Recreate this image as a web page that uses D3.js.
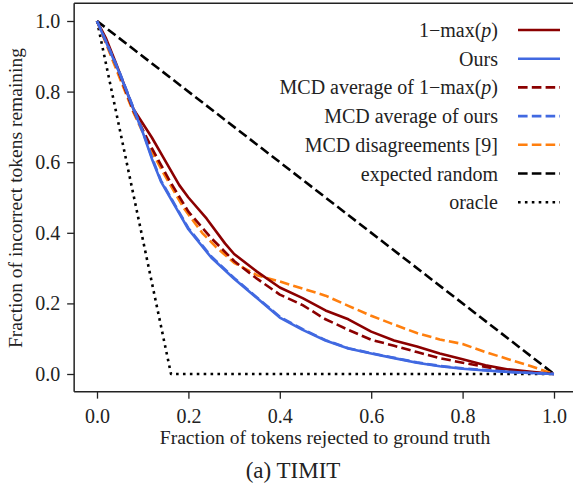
<!DOCTYPE html>
<html>
<head>
<meta charset="utf-8">
<script src="https://cdn.jsdelivr.net/npm/d3@7"></script>
<style>
  body { margin: 0; background: #fff; }
  svg text { font-family: "Liberation Serif", "DejaVu Serif", serif; fill: #222; }
</style>
</head>
<body>
<div id="chart-area"></div>
<script>
// values
var xMaxP   = [0, 0.02, 0.04, 0.08, 0.12, 0.14, 0.18, 0.2, 0.24, 0.28, 0.3, 0.35, 0.4, 0.45, 0.5, 0.55, 0.6, 0.65, 0.7, 0.75, 0.8, 0.85, 0.9, 0.95, 1.0];
var yMaxP   = [1, 0.95, 0.885, 0.75, 0.67, 0.625, 0.535, 0.50, 0.44, 0.37, 0.34, 0.29, 0.245, 0.215, 0.18, 0.155, 0.12, 0.095, 0.078, 0.058, 0.042, 0.025, 0.013, 0.006, 0];

var xOurs   = [0, 0.02, 0.05, 0.08, 0.1, 0.12, 0.14, 0.16, 0.18, 0.2, 0.25, 0.3, 0.35, 0.4, 0.45, 0.5, 0.55, 0.6, 0.65, 0.7, 0.75, 0.8, 0.85, 0.9, 0.95, 1.0];
var yOurs   = [1, 0.94, 0.85, 0.75, 0.685, 0.61, 0.545, 0.50, 0.455, 0.41, 0.33, 0.27, 0.215, 0.16, 0.125, 0.095, 0.072, 0.058, 0.045, 0.032, 0.022, 0.015, 0.01, 0.006, 0.003, 0];
var yOursMcd = [1, 0.942, 0.853, 0.753, 0.688, 0.614, 0.548, 0.503, 0.458, 0.413, 0.333, 0.272, 0.217, 0.162, 0.127, 0.096, 0.073, 0.059, 0.046, 0.033, 0.023, 0.016, 0.011, 0.006, 0.003, 0];

var xMaxPMcd = [0, 0.04, 0.08, 0.12, 0.16, 0.2, 0.25, 0.3, 0.35, 0.4, 0.45, 0.5, 0.55, 0.6, 0.65, 0.7, 0.75, 0.8, 0.85, 0.9, 0.95, 1.0];
var yMaxPMcd = [1, 0.88, 0.745, 0.64, 0.545, 0.46, 0.385, 0.32, 0.27, 0.225, 0.195, 0.155, 0.125, 0.097, 0.08, 0.062, 0.045, 0.032, 0.02, 0.01, 0.004, 0];

var xDisagree = [0, 0.04, 0.08, 0.12, 0.145, 0.19, 0.23, 0.26, 0.3, 0.35, 0.4, 0.45, 0.5, 0.55, 0.6, 0.65, 0.7, 0.75, 0.8, 0.85, 0.9, 0.95, 1.0];
var yDisagree = [1, 0.87, 0.74, 0.63, 0.57, 0.47, 0.40, 0.36, 0.315, 0.28, 0.262, 0.242, 0.222, 0.193, 0.165, 0.14, 0.116, 0.098, 0.085, 0.062, 0.042, 0.022, 0];

var xRandom = [0, 1], yRandom = [1, 0];
var xOracle = [0, 0.162, 1], yOracle = [1, 0, 0];

var xTicks = [0, 0.2, 0.4, 0.6, 0.8, 1.0];
var yTicks = [0, 0.2, 0.4, 0.6, 0.8, 1.0];

var W = 573, H = 483;

var xScale = d3.scaleLinear().domain([-0.05, 1.05]).range([74.15, 576.85]);
var yScale = d3.scaleLinear().domain([-0.05, 1.05]).range([391.65, 3.35]);

function zip(xs, ys) { return xs.map(function(x, i) { return [x, ys[i]]; }); }

var series = [
  {name: "maxp",  label: "1\u2212max(p)", xs: xMaxP, ys: yMaxP, color: "#8b0000", dash: null},
  {name: "ours",  label: "Ours", xs: xOurs, ys: yOurs, color: "#4169e1", dash: null},
  {name: "maxpmcd", label: "MCD average of 1\u2212max(p)", xs: xMaxPMcd, ys: yMaxPMcd, color: "#8b0000", dash: "9.6,4.2"},
  {name: "oursmcd", label: "MCD average of ours", xs: xOurs, ys: yOursMcd, color: "#4169e1", dash: "9.6,4.2"},
  {name: "disagree", label: "MCD disagreements [9]", xs: xDisagree, ys: yDisagree, color: "#ff7f0e", dash: "9.6,4.2"},
  {name: "random", label: "expected random", xs: xRandom, ys: yRandom, color: "#000", dash: "9.6,4.2"},
  {name: "oracle", label: "oracle", xs: xOracle, ys: yOracle, color: "#000", dash: "2.6,4.3"}
];

var svg = d3.select("#chart-area").append("svg")
    .attr("width", W).attr("height", H);
svg.append("rect").attr("width", W).attr("height", H).attr("fill", "#fff");

var line = d3.line()
    .x(function(d) { return xScale(d[0]); })
    .y(function(d) { return yScale(d[1]); });

// draw order: lowest drawn first so front lines sit on top like the figure
var drawOrder = ["random", "oracle", "disagree", "maxpmcd", "maxp", "ours", "oursmcd"];
var byName = {};
series.forEach(function(s) { byName[s.name] = s; });

var lineGroup = svg.append("g").attr("id", "line-group");
drawOrder.forEach(function(n) {
  var s = byName[n];
  lineGroup.append("path")
    .datum(zip(s.xs, s.ys))
    .attr("d", line)
    .attr("fill", "none")
    .attr("stroke", s.color)
    .attr("stroke-width", 2.6)
    .attr("stroke-linejoin", "round")
    .attr("stroke-dasharray", s.dash);
});

// axes
var xAxis = d3.axisBottom(xScale).tickValues(xTicks).tickFormat(d3.format(".1f")).tickSize(7).tickPadding(6);
var yAxis = d3.axisLeft(yScale).tickValues(yTicks).tickFormat(d3.format(".1f")).tickSize(7).tickPadding(7);

var gx = svg.append("g").attr("transform", "translate(0," + yScale(-0.05) + ")").call(xAxis);
var gy = svg.append("g").attr("transform", "translate(" + xScale(-0.05) + ",0)").call(yAxis);
[gx, gy].forEach(function(g) {
  g.select(".domain").remove();
  g.selectAll("line").attr("stroke", "#222").attr("stroke-width", 1.3);
  g.selectAll("text").style("font-size", "20px").attr("fill", "#222");
});
gx.selectAll("text").attr("dy", "0.9em");

// spines: left, bottom, top
svg.append("line").attr("x1", xScale(-0.05)).attr("x2", xScale(-0.05))
  .attr("y1", yScale(1.05)).attr("y2", yScale(-0.05)).attr("stroke", "#222").attr("stroke-width", 1.5);
svg.append("line").attr("x1", xScale(-0.05)).attr("x2", W)
  .attr("y1", yScale(-0.05)).attr("y2", yScale(-0.05)).attr("stroke", "#222").attr("stroke-width", 1.5);
svg.append("line").attr("x1", xScale(-0.05)).attr("x2", W)
  .attr("y1", yScale(1.05)).attr("y2", yScale(1.05)).attr("stroke", "#222").attr("stroke-width", 1.5);

// labels
svg.append("text").attr("x", 325).attr("y", 444).attr("text-anchor", "middle")
  .style("font-size", "19.5px").text("Fraction of tokens rejected to ground truth");
svg.append("text").attr("transform", "translate(22,198) rotate(-90)").attr("text-anchor", "middle")
  .style("font-size", "19.5px").text("Fraction of incorrect tokens remaining");
svg.append("text").attr("x", 293).attr("y", 478).attr("text-anchor", "middle")
  .style("font-size", "23px").text("(a) TIMIT");

// legend
var legend = svg.append("g").attr("id", "legend");
series.forEach(function(s, i) {
  var y = 30 + i * 28.7;
  var t = legend.append("text").attr("x", 498).attr("y", y).attr("dy", "0.35em")
    .attr("text-anchor", "end").style("font-size", "20px");
  if (s.label.indexOf("max(p)") >= 0) {
    var pre = s.label.replace("max(p)", "");
    t.append("tspan").text(pre + "max(");
    t.append("tspan").style("font-style", "italic").text("p");
    t.append("tspan").text(")");
  } else {
    t.text(s.label);
  }
  legend.append("line").attr("x1", 518).attr("x2", 560).attr("y1", y).attr("y2", y)
    .attr("stroke", s.color).attr("stroke-width", 2.6).attr("stroke-dasharray", s.dash);
});
</script>
</body>
</html>
